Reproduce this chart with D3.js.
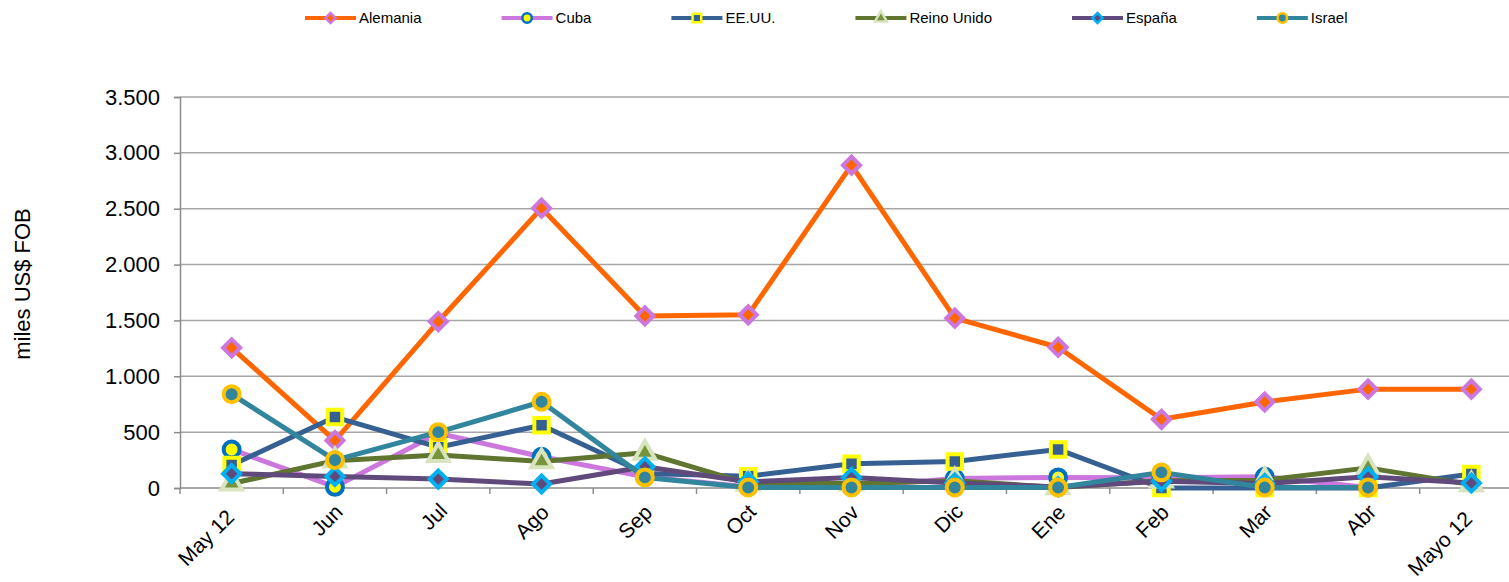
<!DOCTYPE html>
<html>
<head>
<meta charset="utf-8">
<script src="https://cdn.jsdelivr.net/npm/d3@7"></script>
<style>
  body { margin: 0; background: #fff; }
  svg { font-family: "Liberation Sans", Arial, sans-serif; display: block; }
</style>
</head>
<body>
<svg id="chart" width="1509" height="582"></svg>
<script>
// months on the x axis
var months = ["May 12", "Jun", "Jul", "Ago", "Sep", "Oct", "Nov", "Dic", "Ene", "Feb", "Mar", "Abr", "Mayo 12"];

// miles US$ FOB
var alemania   = [1255, 425, 1490, 2505, 1540, 1550, 2890, 1520, 1260, 615, 770, 885, 885];
var cuba       = [345, 10, 490, 280, 100, 10, 10, 85, 95, 92, 100, 5, null];
var eeuu       = [205, 635, 365, 562, 130, 105, 217, 238, 345, 0, 0, 0, 125];
var reinoUnido = [40, 245, 295, 238, 315, 40, 40, 65, 5, 65, 70, 180, 30];
var espana     = [128, 104, 80, 36, 190, 55, 95, 45, 10, 60, 40, 100, 45];
var israel     = [840, 250, 500, 772, 95, 5, 5, 5, 5, 140, 5, 5, null];

var yTicks = [0, 500, 1000, 1500, 2000, 2500, 3000, 3500];

var series = [
    { name: "Alemania",    values: alemania,   line: "#FF6600", shape: "diamond",  fill: "#FF6600", edge: "#CC77DD" },
    { name: "Cuba",        values: cuba,       line: "#CC77DD", shape: "circle",   fill: "#FFFF00", edge: "#0070C0" },
    { name: "EE.UU.",      values: eeuu,       line: "#376092", shape: "square",   fill: "#376092", edge: "#FFFF00" },
    { name: "Reino Unido", values: reinoUnido, line: "#5F7530", shape: "triangle", fill: "#77933C", edge: "#D7E4BD" },
    { name: "España",      values: espana,     line: "#604A7B", shape: "diamond",  fill: "#604A7B", edge: "#00B0F0" },
    { name: "Israel",      values: israel,     line: "#31859C", shape: "circle",   fill: "#31859C", edge: "#FFC000" }
];

var svg = d3.select("#chart");
var plotLeft = 180, plotRight = 1523, plotTop = 97, plotBottom = 488;

var x = d3.scalePoint().domain(months).range([plotLeft, plotRight]).padding(0.5);
var y = d3.scaleLinear().domain([0, 3500]).range([plotBottom, plotTop]);

var fmt = function(v) { return d3.format(",")(v).replace(/,/g, "."); };

// gridlines
svg.append("g")
    .selectAll("line")
    .data(yTicks.slice(1))
    .enter().append("line")
    .attr("x1", plotLeft).attr("x2", 1509)
    .attr("y1", function(d) { return y(d); })
    .attr("y2", function(d) { return y(d); })
    .attr("stroke", "#A6A6A6")
    .attr("stroke-width", 1.5);

// y axis
var yAxis = svg.append("g")
    .attr("transform", "translate(" + plotLeft + ",0)")
    .call(d3.axisLeft(y).tickValues(yTicks).tickFormat(fmt).tickSize(6).tickPadding(14));
yAxis.select(".domain").attr("stroke", "#8C8C8C").attr("stroke-width", 1.5);
yAxis.selectAll(".tick line").attr("stroke", "#8C8C8C").attr("stroke-width", 1.5);
yAxis.selectAll("text").style("font-size", "22px").attr("fill", "#000");

// x axis, ticks between categories
var step = x.step();
var xAxis = svg.append("g");
xAxis.append("line")
    .attr("x1", plotLeft).attr("x2", 1509)
    .attr("y1", plotBottom).attr("y2", plotBottom)
    .attr("stroke", "#8C8C8C").attr("stroke-width", 1.5);
xAxis.selectAll(".xt")
    .data(months)
    .enter().append("line")
    .attr("class", "xt")
    .attr("x1", function(d) { return x(d) - step / 2; })
    .attr("x2", function(d) { return x(d) - step / 2; })
    .attr("y1", plotBottom).attr("y2", plotBottom + 6)
    .attr("stroke", "#8C8C8C").attr("stroke-width", 1.5);
xAxis.selectAll(".xl")
    .data(months)
    .enter().append("text")
    .attr("class", "xl")
    .attr("text-anchor", "end")
    .attr("dy", "0.35em")
    .style("font-size", "21px")
    .text(function(d) { return d; })
    .attr("transform", function(d) {
        var len = this.getComputedTextLength();
        return "translate(" + (x(d) + 9 - 0.15 * len) + "," + (plotBottom + 15 + 0.15 * len) + ") rotate(-45)";
    });

// y title
svg.append("text")
    .attr("transform", "translate(30,284) rotate(-90)")
    .attr("text-anchor", "middle")
    .style("font-size", "22px")
    .text("miles US$ FOB");

function symbolPath(shape, scale) {
    var type = { circle: d3.symbolCircle, square: d3.symbolSquare, diamond: d3.symbolSquare, triangle: d3.symbolTriangle }[shape];
    var size = { circle: 200, square: 210, diamond: 145, triangle: 180 }[shape];
    return d3.symbol().type(type).size(size * scale)();
}

var line = d3.line()
    .defined(function(d) { return d != null; })
    .x(function(d, i) { return x(months[i]); })
    .y(function(d) { return y(d); });

series.forEach(function(s) {
    var g = svg.append("g");
    g.append("path")
        .attr("d", line(s.values))
        .attr("fill", "none")
        .attr("stroke", s.line)
        .attr("stroke-width", 5)
        .attr("stroke-linejoin", "round");

    g.selectAll(".m")
        .data(s.values.map(function(v, i) { return { v: v, m: months[i] }; }).filter(function(d) { return d.v != null; }))
        .enter().append("path")
        .attr("class", "m")
        .attr("d", symbolPath(s.shape, 1))
        .attr("transform", function(d) {
            return "translate(" + x(d.m) + "," + y(d.v) + ")" + (s.shape == "diamond" ? " rotate(45)" : "");
        })
        .attr("fill", s.fill)
        .attr("stroke", s.edge)
        .attr("stroke-width", 4);
});

// legend
var legend = svg.append("g").attr("transform", "translate(305,18)");
var lx = 0;
series.forEach(function(s) {
    var item = legend.append("g").attr("transform", "translate(" + lx + ",0)");
    item.append("line")
        .attr("x1", 0).attr("x2", 51)
        .attr("stroke", s.line).attr("stroke-width", 4);
    item.append("path")
        .attr("d", symbolPath(s.shape, 0.35))
        .attr("transform", "translate(25.5,0)" + (s.shape == "diamond" ? " rotate(45)" : ""))
        .attr("fill", s.fill)
        .attr("stroke", s.edge)
        .attr("stroke-width", 2.5);
    var t = item.append("text")
        .attr("x", 54)
        .attr("dy", "0.35em")
        .style("font-size", "15px")
        .text(s.name);
    lx += 54 + t.node().getComputedTextLength() + 80;
});
</script>
</body>
</html>
